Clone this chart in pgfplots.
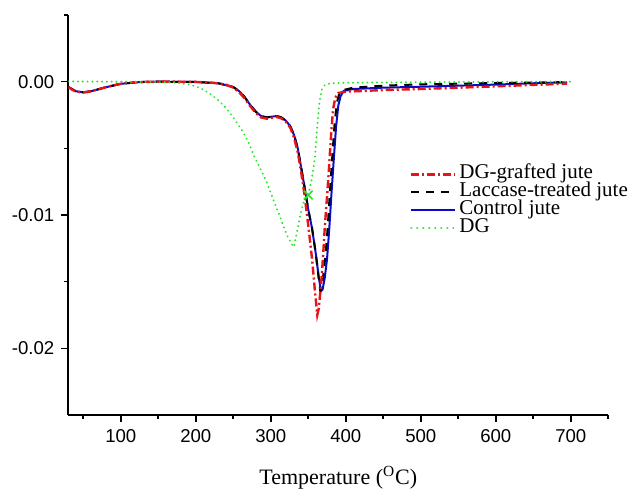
\documentclass[border=0pt]{standalone}
\usepackage{fontspec}
\setmainfont{Liberation Serif}
\newfontfamily\arial{Liberation Sans}
\usepackage{pgfplots}
\pgfplotsset{compat=1.18}
\usepackage{pgfplotstable}

\definecolor{dgred}{RGB}{230,20,20}
\definecolor{ctrlblue}{RGB}{10,10,200}
\definecolor{dggreen}{RGB}{40,230,40}

% DG-grafted jute
\pgfplotstableread{
T y
30 -0.00040
35 -0.00060
40 -0.00072
45 -0.00078
50 -0.00080
55 -0.00078
60 -0.00072
70 -0.00058
80 -0.00042
90 -0.00028
100 -0.00016
110 -0.00008
125 -0.00003
150 0.00000
175 0.00000
200 -0.00002
215 -0.00005
230 -0.00012
240 -0.00022
250 -0.00045
258 -0.00080
265 -0.00125
272 -0.00180
280 -0.00235
287 -0.00268
295 -0.00278
302 -0.00270
308 -0.00265
314 -0.00275
320 -0.00300
326 -0.00345
331 -0.00420
336 -0.00530
340 -0.00660
345 -0.00850
350 -0.01080
355 -0.01330
359 -0.01580
362 -0.01750
364 -0.01700
366 -0.01580
368 -0.01450
370 -0.01280
372 -0.01090
375 -0.00860
377 -0.00700
379 -0.00520
381 -0.00350
383 -0.00210
386 -0.00120
390 -0.00085
400 -0.00075
450 -0.00063
500 -0.00055
550 -0.00045
600 -0.00035
650 -0.00024
695 -0.00015
}\grafted

% Laccase-treated jute
\pgfplotstableread{
T y
30 -0.00040
40 -0.00072
50 -0.00080
60 -0.00072
80 -0.00042
100 -0.00016
125 -0.00003
150 0.00000
200 -0.00002
230 -0.00012
250 -0.00040
258 -0.00072
265 -0.00115
272 -0.00170
280 -0.00225
287 -0.00258
295 -0.00268
302 -0.00262
308 -0.00258
314 -0.00268
320 -0.00292
326 -0.00335
331 -0.00400
336 -0.00500
341 -0.00660
345 -0.00790
350 -0.00960
355 -0.01100
360 -0.01290
364 -0.01480
366 -0.01570
368 -0.01540
370 -0.01450
373 -0.01300
376 -0.01080
379 -0.00810
382 -0.00560
385 -0.00320
388 -0.00160
391 -0.00095
395 -0.00065
410 -0.00045
450 -0.00030
500 -0.00020
600 -0.00010
695 -0.00003
}\laccase

% Control jute
\pgfplotstableread{
T y
30 -0.00040
40 -0.00072
50 -0.00080
60 -0.00072
80 -0.00042
100 -0.00016
125 -0.00003
150 0.00000
200 -0.00002
230 -0.00012
250 -0.00040
258 -0.00072
265 -0.00115
272 -0.00170
280 -0.00225
287 -0.00258
295 -0.00268
302 -0.00262
308 -0.00258
314 -0.00268
320 -0.00292
326 -0.00335
331 -0.00400
336 -0.00500
341 -0.00660
345 -0.00790
350 -0.00960
355 -0.01100
360 -0.01290
364 -0.01470
367 -0.01570
369 -0.01560
372 -0.01470
375 -0.01330
378 -0.01100
381 -0.00830
384 -0.00580
387 -0.00340
390 -0.00180
393 -0.00110
397 -0.00070
410 -0.00055
450 -0.00045
500 -0.00038
550 -0.00030
600 -0.00022
650 -0.00012
695 -0.00005
}\control

% DG
\pgfplotstableread{
T y
30 0.00002
50 0.00001
100 0.00000
150 -0.00002
175 -0.00008
190 -0.00020
200 -0.00035
210 -0.00060
220 -0.00095
230 -0.00140
240 -0.00195
250 -0.00270
260 -0.00350
270 -0.00450
277 -0.00550
285 -0.00640
295 -0.00760
303 -0.00880
312 -0.01010
318 -0.01100
323 -0.01170
328 -0.01220
331 -0.01240
333 -0.01180
336 -0.01100
340 -0.00980
344 -0.00900
350 -0.00850
355 -0.00720
359 -0.00560
362 -0.00330
365 -0.00150
368 -0.00060
372 -0.00025
380 -0.00012
400 -0.00008
500 -0.00004
600 -0.00001
700 0.00000
}\dg

\begin{document}
\begin{tikzpicture}
\begin{axis}[
  name=ax,
  width=270pt, height=200pt, scale only axis,
  xmin=30, xmax=750, ymin=-0.025, ymax=0.005,
  axis lines=left,
  axis line style={-, line width=0.9pt},
  tick style={line width=0.8pt, black},
  tick align=outside,
  major tick length=3.5pt, minor tick length=2pt,
  xtick={100,200,...,700},
  minor xtick={50,150,...,750},
  ytick={-0.02,-0.01,0},
  minor ytick={-0.015,-0.005,0.005},
  scaled y ticks=false,
  /pgf/number format/assume math mode=true,
  ticklabel style={font=\arial\fontsize{9.3}{10}\selectfont},
  yticklabel style={/pgf/number format/.cd, fixed, fixed zerofill, precision=2},
  xlabel={Temperature (\textsuperscript{O}C)},
  xlabel style={font=\fontsize{11}{12}\selectfont, at={(axis description cs:0.5,0)}, anchor=north, yshift=-22pt},
  legend style={at={(0.632,0.625)}, anchor=north west, draw=none, fill=none,
    font=\fontsize{10.5}{11}\selectfont, row sep=0pt, inner sep=0pt,
    nodes={inner ysep=0pt, inner xsep=1.5pt, text height=6.8pt, text depth=2.2pt}},
  legend cell align=left,
  legend image code/.code={\draw[#1] (0pt,0pt) -- (22pt,0pt);},
]
\addlegendimage{dgred, line width=1.2pt, dash pattern=on 4pt off 1.5pt on 1pt off 1.5pt}
\addlegendentry{DG-grafted jute}
\addlegendimage{black, line width=1pt, dash pattern=on 4pt off 3.5pt}
\addlegendentry{Laccase-treated jute}
\addlegendimage{ctrlblue, line width=1pt}
\addlegendentry{Control jute}
\addlegendimage{dggreen, line width=1.1pt, line cap=round, dash pattern=on 0.01pt off 3pt}
\addlegendentry{DG}

\addplot[forget plot, ctrlblue, line width=1pt] table[x=T, y=y] {\control};
\addplot[forget plot, black, line width=1pt, dash pattern=on 4pt off 3.5pt] table[x=T, y=y] {\laccase};
\addplot[forget plot, dgred, line width=1.2pt, dash pattern=on 4pt off 1.5pt on 1pt off 1.5pt] table[x=T, y=y] {\grafted};
\addplot[forget plot, dggreen, line width=1.1pt, line cap=round, dash pattern=on 0.01pt off 2.4pt] table[x=T, y=y] {\dg};
\addplot[forget plot, dggreen, only marks, mark=x, mark size=3pt, line width=0.8pt] coordinates {(350,-0.0085)};
\end{axis}
\pgfresetboundingbox
\path[use as bounding box] ([shift={(-34.15pt,-38.5pt)}]ax.south west) rectangle ([shift={(285.35pt,207.5pt)}]ax.south west);
\end{tikzpicture}
\end{document}
